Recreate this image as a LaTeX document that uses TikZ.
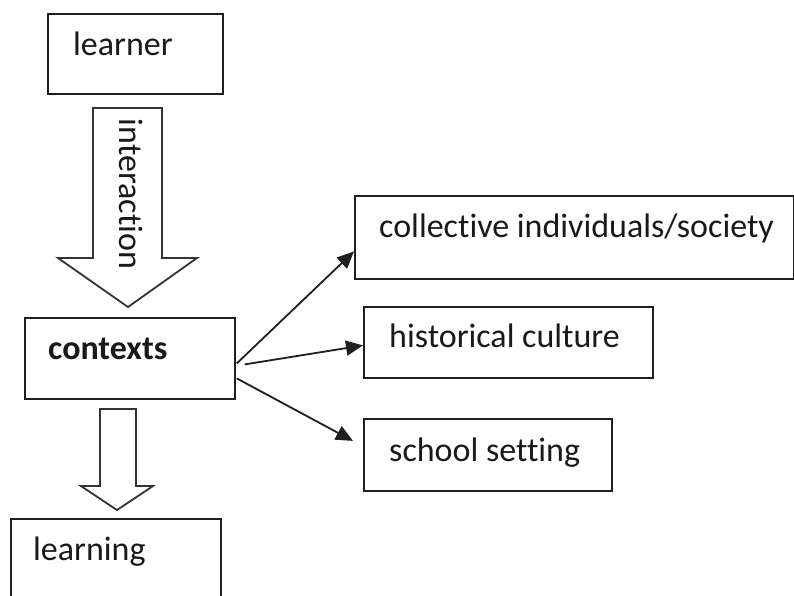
\documentclass[tikz,border=0pt]{standalone}
\usepackage{fontspec}
\setmainfont{Carlito}[Ligatures=CommonOff]
\usetikzlibrary{arrows.meta,calc}
\begin{document}
\begin{tikzpicture}[x=1pt,y=-1pt,
  box/.style={draw=black!88, line width=1.8pt, rectangle, inner sep=0pt, anchor=north west},
  lbl/.style={font=\fontsize{34}{39}\selectfont, inner sep=0pt, anchor=base west, text=black!90},
  blockarrow/.style={draw=black!80, line width=1.8pt, fill=white, line join=miter},
  conn/.style={draw=black!88, line width=1.8pt, -{Triangle[length=17pt,width=15pt]}}]
\useasboundingbox (0,0) rectangle (794,595);
% boxes
\node[box, minimum width=175pt, minimum height=80pt] (learnerbox) at (47,13) {};
\node[box, minimum width=210pt, minimum height=81pt] (ctxbox) at (24,317) {};
\node[box, minimum width=210pt, minimum height=90pt] (learningbox) at (10,518) {};
\node[box, minimum width=439pt, minimum height=83pt] (collbox) at (354,195) {};
\node[box, minimum width=289pt, minimum height=71pt] (histbox) at (363,306) {};
\node[box, minimum width=248pt, minimum height=72pt] (schoolbox) at (363,418) {};
% block arrows
\draw[blockarrow] (93,108) -- (162,108) -- (162,258) -- (197,258) -- (128,307) -- (58,258) -- (93,258) -- cycle;
\draw[blockarrow] (100,409) -- (136,409) -- (136,486) -- (153,486) -- (117,510) -- (81,486) -- (100,486) -- cycle;
% texts
\node[lbl] (learnertxt) at (73,55) {learner};
\node[lbl, rotate=-90, anchor=center] (interact) at (131,194) {interaction};
\node[lbl, font=\fontsize{34}{39}\selectfont\bfseries] (ctxtxt) at (48,359) {contexts};
\node[lbl] (learningtxt) at (33,560) {learning};
\node[lbl] (colltxt) at (379,237) {collective individuals/society};
\node[lbl] (histtxt) at (389,347) {historical culture};
\node[lbl] (schooltxt) at (389,461) {school setting};
% connectors
\draw[conn] ($(ctxbox.east)+(1,5)$) -- ($(collbox.west)+(0,14)$);
\draw[conn] ($(ctxbox.east)+(9,6)$) -- ($(histbox.west)+(0,3)$);
\draw[conn] ($(ctxbox.east)+(1,20)$) -- ($(schoolbox.west)+(-10,-14)$);
\end{tikzpicture}
\end{document}
